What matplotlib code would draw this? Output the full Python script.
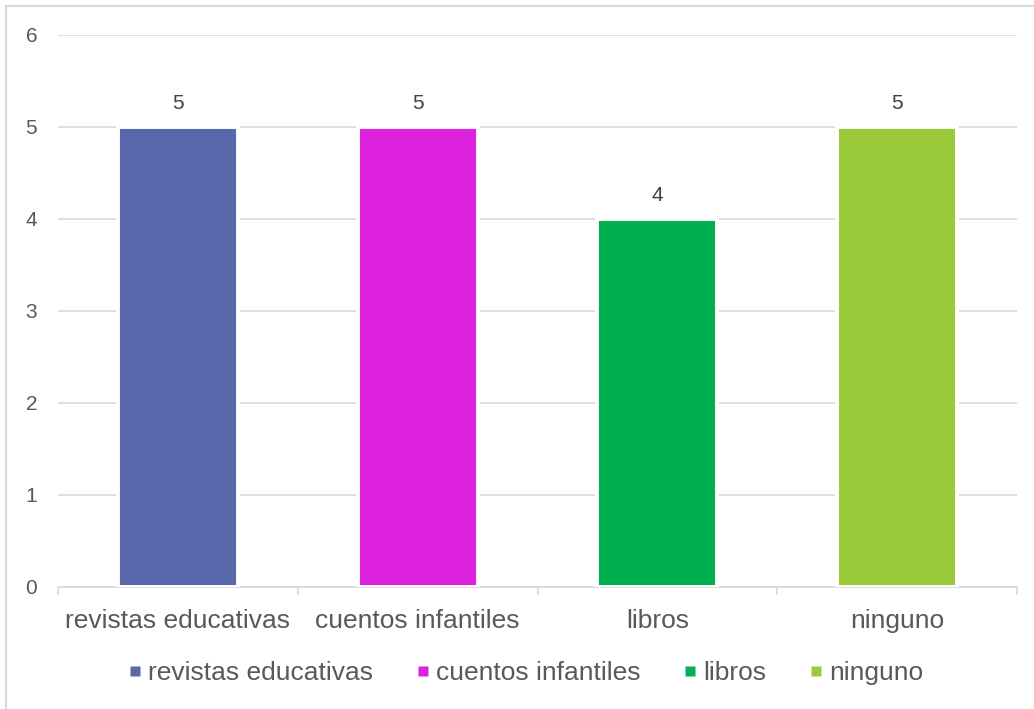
import matplotlib
matplotlib.use("Agg")
import matplotlib.pyplot as plt
from matplotlib.patches import Rectangle
from matplotlib.lines import Line2D

categories = ["revistas educativas", "cuentos infantiles", "libros", "ninguno"]
values = [5, 5, 4, 5]
colors = ["#5967AB", "#DD22DD", "#00B050", "#9ACA3C"]
yticks = [0, 1, 2, 3, 4, 5, 6]

plt.rcParams['font.family'] = ['Liberation Sans', 'DejaVu Sans']
txt = "#595959"

fig = plt.figure(figsize=(10.34, 7.09), dpi=100)
ax = fig.add_axes([58/1034, 1-587/709, (1017-58)/1034, (587-35)/709])

x = list(range(len(categories)))
ax.set_axisbelow(True)
ax.yaxis.grid(True, color="#D9D9D9", linewidth=1.2)
bars = ax.bar(x, values, width=0.5, color=colors, edgecolor="white", linewidth=2.8, zorder=3)
for xi, v in zip(x, values):
    ax.annotate(str(v), (xi, v), xytext=(0, 10), textcoords="offset points",
                ha="center", va="bottom", fontsize=15, color="#404040")

ax.set_xlim(-0.5, len(categories) - 0.5)
ax.set_ylim(0, 6)
ax.set_yticks(yticks)
ax.set_yticklabels([str(t) for t in yticks], fontsize=15, color=txt)
ax.set_xticks(x)
ax.set_xticklabels(categories, fontsize=19, color=txt)
ax.tick_params(axis="y", length=0, pad=15)
ax.tick_params(axis="x", length=0, pad=16)
# category boundary ticks
ax.set_xticks([i - 0.5 for i in range(len(categories) + 1)], minor=True)
ax.tick_params(axis="x", which="minor", length=6, color="#D9D9D9", width=1.2, direction="out")
for s in ["top", "right", "left"]:
    ax.spines[s].set_visible(False)
ax.spines["bottom"].set_color("#D9D9D9")
ax.spines["bottom"].set_linewidth(1.2)

handles = [Line2D([], [], marker="s", linestyle="none", markersize=6.5,
                  markerfacecolor=c, markeredgecolor="none", label=l)
           for c, l in zip(colors, categories)]
leg = fig.legend(handles=handles, loc="center", bbox_to_anchor=(527/1034, 1-673/709), ncol=4,
                 frameon=False, fontsize=19, handlelength=0.34,
                 handletextpad=0.34, columnspacing=1.7, labelcolor=txt)

# chart border (left/top visible)
fig.add_artist(Rectangle((6/1034, -0.01), 1.02, 1-6/709+0.01, transform=fig.transFigure,
                         fill=False, edgecolor="#D9D9D9", linewidth=1.5))

fig.savefig("out.png", dpi=100)
